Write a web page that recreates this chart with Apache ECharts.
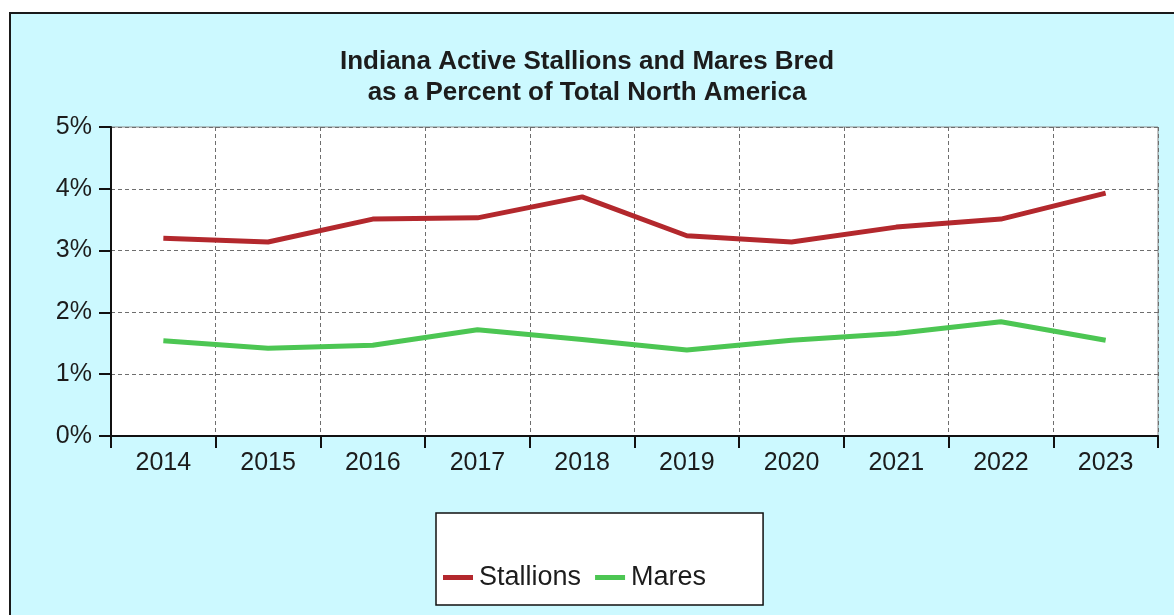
<!DOCTYPE html>
<html>
<head>
<meta charset="utf-8">
<script src="https://cdn.jsdelivr.net/npm/echarts@6/dist/echarts.min.js"></script>
<style>
  html, body { margin: 0; padding: 0; width: 1174px; height: 615px; overflow: hidden; background: #ffffff; }
  #frame { position: absolute; left: 9px; top: 12px; width: 1200px; height: 700px; border-left: 2px solid #1a1a1a; border-top: 2px solid #1a1a1a; background: #ccf9ff; }
  #chart { position: absolute; left: 0; top: 0; width: 1174px; height: 615px; }
</style>
</head>
<body>
<div id="frame"></div>
<div id="chart"></div>
<script>
const titleLines = ['Indiana Active Stallions and Mares Bred', 'as a Percent of Total North America'];
const years = ['2014', '2015', '2016', '2017', '2018', '2019', '2020', '2021', '2022', '2023'];
const stallions = [3.20, 3.14, 3.51, 3.53, 3.87, 3.24, 3.14, 3.38, 3.51, 3.93];
const mares = [1.54, 1.42, 1.47, 1.72, 1.56, 1.39, 1.55, 1.66, 1.85, 1.55];
const seriesNames = ['Stallions', 'Mares'];

const chart = echarts.init(document.getElementById('chart'), null, { renderer: 'canvas' });
const txt = '#1c1c1c';
const font = 'Liberation Sans, Arial, sans-serif';
chart.setOption({
  backgroundColor: 'transparent',
  animation: false,
  title: {
    text: titleLines.join('\n'),
    left: 'center',
    top: 41,
    textStyle: { fontFamily: font, fontSize: 26, fontWeight: 'bold', color: txt, lineHeight: 31 }
  },
  legend: {
    data: seriesNames,
    left: 436,
    top: 513,
    orient: 'horizontal',
    padding: [51, 57, 14, 7],
    backgroundColor: '#ffffff',
    borderColor: '#111111',
    borderWidth: 1.5,
    borderRadius: 0,
    itemGap: 14,
    itemWidth: 30,
    itemHeight: 5,
    icon: 'rect',
    textStyle: { fontFamily: font, fontSize: 27, color: txt, padding: [0, 0, 0, 1] }
  },
  grid: {
    left: 111, right: 16, top: 127, bottom: 179,
    show: true, backgroundColor: '#ffffff', borderColor: '#8a8a8a', borderWidth: 1
  },
  xAxis: {
    type: 'category',
    data: years,
    boundaryGap: true,
    axisLine: { show: true, lineStyle: { color: '#111111', width: 2 } },
    axisTick: { show: true, length: 12, lineStyle: { color: '#111111', width: 2 } },
    axisLabel: { margin: 15, fontFamily: font, fontSize: 25, color: txt },
    splitLine: { show: true, lineStyle: { color: '#6e6e6e', width: 1, type: [4, 3] } }
  },
  yAxis: {
    type: 'value',
    min: 0, max: 5, interval: 1,
    axisLine: { show: true, lineStyle: { color: '#111111', width: 2 } },
    axisTick: { show: true, length: 12, lineStyle: { color: '#111111', width: 2 } },
    axisLabel: { margin: 19, formatter: '{value}%', fontFamily: font, fontSize: 25, color: txt },
    splitLine: { show: true, lineStyle: { color: '#6e6e6e', width: 1, type: [4, 3] } }
  },
  series: [
    { name: seriesNames[0], type: 'line', data: stallions, symbol: 'none', color: '#b3282d', lineStyle: { width: 5, color: '#b3282d' } },
    { name: seriesNames[1], type: 'line', data: mares, symbol: 'none', color: '#4cc653', lineStyle: { width: 5, color: '#4cc653' } }
  ]
});
</script>
</body>
</html>
